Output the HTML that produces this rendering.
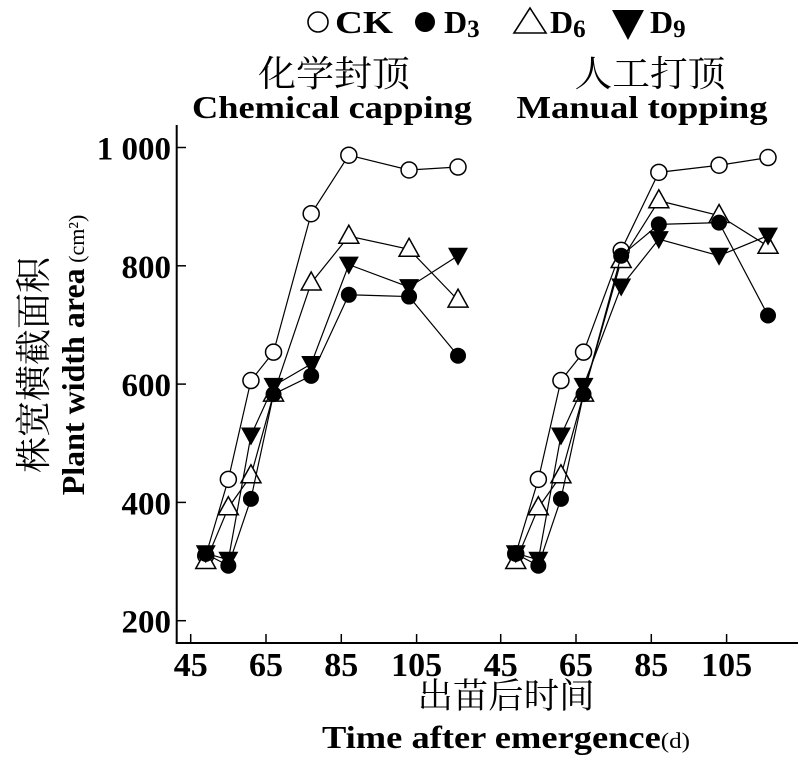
<!DOCTYPE html>
<html><head><meta charset="utf-8"><style>
body{margin:0;background:#fff;}
svg text{font-family:"Liberation Serif","Noto Serif CJK SC","Noto Sans CJK SC",serif;}
</style></head><body>
<svg id="chart" width="800" height="759" viewBox="0 0 800 759" xmlns="http://www.w3.org/2000/svg">
<g font-weight="bold" font-size="32">
  <circle cx="318" cy="22" r="10" fill="#fff" stroke="#000" stroke-width="1.6"/>
  <text x="335" y="33" textLength="58" lengthAdjust="spacingAndGlyphs">CK</text>
  <circle cx="425" cy="22" r="10" fill="#000"/>
  <text x="444" y="33">D<tspan font-size="25" dy="4">3</tspan></text>
  <path d="M530,8 L546,33 L514,33 Z" fill="#fff" stroke="#000" stroke-width="1.6"/>
  <text x="550" y="33">D<tspan font-size="25" dy="4">6</tspan></text>
  <path d="M612,10 L644,10 L628,40 Z" fill="#000"/>
  <text x="650" y="33">D<tspan font-size="25" dy="4">9</tspan></text>
</g>
<text x="334" y="86" font-size="36" text-anchor="middle" textLength="152" lengthAdjust="spacingAndGlyphs">化学封顶</text>
<text x="332" y="118" font-size="32" font-weight="bold" text-anchor="middle" textLength="280" lengthAdjust="spacingAndGlyphs">Chemical capping</text>
<text x="650" y="86" font-size="36" text-anchor="middle" textLength="151" lengthAdjust="spacingAndGlyphs">人工打顶</text>
<text x="642" y="118" font-size="32" font-weight="bold" text-anchor="middle" textLength="251" lengthAdjust="spacingAndGlyphs">Manual topping</text>
<text transform="translate(46,365) rotate(-90)" font-size="36" text-anchor="middle" textLength="216" lengthAdjust="spacingAndGlyphs">株宽横截面积</text>
<text transform="translate(84,355) rotate(-90)" font-size="32" font-weight="bold" text-anchor="middle">Plant width area<tspan font-weight="normal" font-size="22"> (cm²)</tspan></text>
<text x="506" y="708" font-size="35" text-anchor="middle" textLength="177" lengthAdjust="spacingAndGlyphs">出苗后时间</text>
<text x="506" y="748" font-size="32" font-weight="bold" text-anchor="middle" textLength="368" lengthAdjust="spacingAndGlyphs">Time after emergence<tspan font-weight="normal" font-size="22">(d)</tspan></text>
<g id="axes"></g>
<g id="marks"></g>
</svg>
<script>
const days = [49, 55, 61, 67, 77, 87, 103, 116];
const yTicks = [200, 400, 600, 800, 1000];
const yTickLabels = ["200", "400", "600", "800", "1 000"];
const xTicks = [45, 65, 85, 105];
const seriesNames = ["CK", "D3", "D6", "D9"];
const chemCK = [310, 439, 606, 654, 888, 987, 962, 967];
const chemD3 = [313, 293, 406, 583, 614, 751, 748, 648];
const chemD6 = [300, 391, 445, 583, 771, 850, 828, 742];
const chemD9 = [314, 303, 513, 597, 634, 802, 764, 817];
const manCK = [313, 439, 606, 654, 826, 958, 970, 983];
const manD3 = [313, 293, 406, 583, 817, 870, 873, 716];
const manD6 = [300, 391, 445, 583, 809, 910, 885, 833];
const manD9 = [314, 303, 513, 597, 765, 845, 817, 851];

const NS = "http://www.w3.org/2000/svg";
const axes = document.getElementById("axes");
const marks = document.getElementById("marks");
function y(v){ return 620.7 - (v - 200) * (620.7 - 147.5) / 800; }
function xL(d){ return 190.7 + (d - 45) * 75.3 / 20; }
function xR(d){ return 500.7 + (d - 45) * 75.3 / 20; }
function mk(tag, attrs, parent){
  const e = document.createElementNS(NS, tag);
  for (const k in attrs) e.setAttribute(k, attrs[k]);
  parent.appendChild(e);
  return e;
}
let ln = mk("line", {x1:176.7, y1:125, x2:176.7, y2:643, stroke:"#000", "stroke-width":2}, axes);


ln = mk("line", {x1:175.7, y1:643, x2:798, y2:643, stroke:"#000", "stroke-width":2}, axes);


yTicks.forEach((v, i) => {
  const t = mk("line", {x1:176.7, y1:y(v), x2:186, y2:y(v), stroke:"#000", "stroke-width":1.5}, axes);
  
  
  const tx = mk("text", {x:171, y:y(v)+12, "font-size":33, "font-weight":"bold", "text-anchor":"end"}, axes);
  tx.textContent = yTickLabels[i];
  
  
});
[xL, xR].forEach(fx => {
  xTicks.forEach(d => {
    const t = mk("line", {x1:fx(d), y1:643, x2:fx(d), y2:634, stroke:"#000", "stroke-width":1.5}, axes);
    
    
    const tx = mk("text", {x:fx(d), y:676, "font-size":34, "font-weight":"bold", "text-anchor":"middle"}, axes);
    tx.textContent = String(d);
    
    
  });
});
function marker(type, cx, cy, parent){
  let e;
  if (type === "CK") e = mk("circle", {cx:cx, cy:cy, r:8, fill:"#fff", stroke:"#000", "stroke-width":1.5}, parent);
  else if (type === "D3") e = mk("circle", {cx:cx, cy:cy, r:8, fill:"#000"}, parent);
  else if (type === "D6") e = mk("path", {d:`M${cx},${cy-11} L${cx+10},${cy+7} L${cx-10},${cy+7} Z`, fill:"#fff", stroke:"#000", "stroke-width":1.5}, parent);
  else e = mk("path", {d:`M${cx-10},${cy-8} L${cx+10},${cy-8} L${cx},${cy+10} Z`, fill:"#000"}, parent);
  return e;
}
function drawPanel(fx, data, label){
  const order = ["CK", "D6", "D9", "D3"];
  order.forEach(name => {
    const vals = data[name];
    const g = mk("g", {}, marks);
    
    
    const pl = mk("polyline", {points: days.map((d,i)=>fx(d)+","+y(vals[i])).join(" "), fill:"none", stroke:"#000", "stroke-width":1.2}, g);
    
    
    days.forEach((d,i) => {
      const m = marker(name, fx(d), y(vals[i]), g);
      
      
    });
  });
}
drawPanel(xL, {CK:chemCK, D3:chemD3, D6:chemD6, D9:chemD9}, "chemical");
drawPanel(xR, {CK:manCK, D3:manD3, D6:manD6, D9:manD9}, "manual");
</script>
</body></html>
